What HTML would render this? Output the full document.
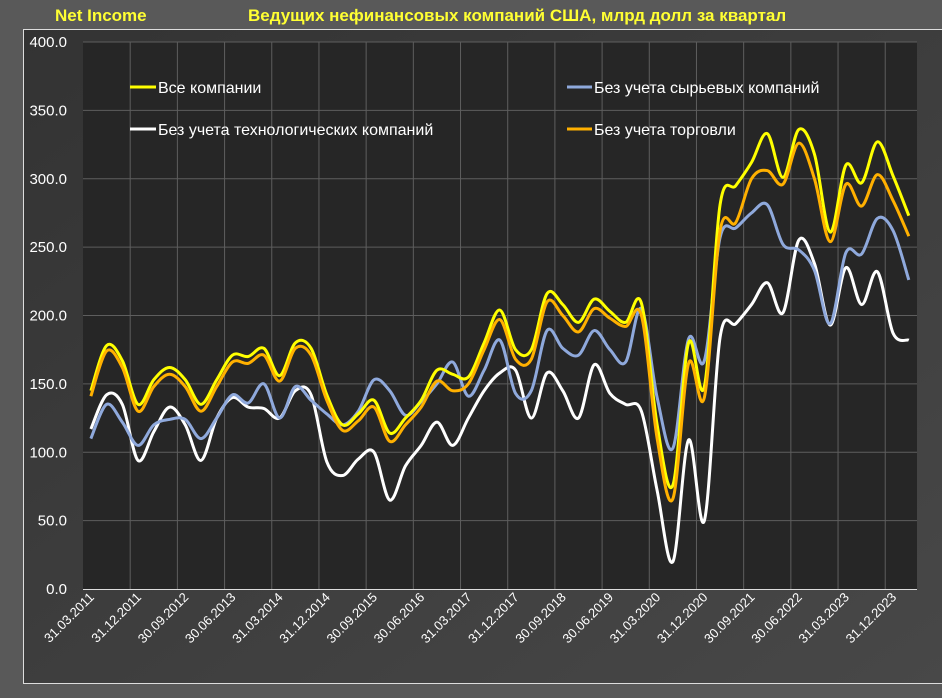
<!DOCTYPE html><html><head><meta charset="utf-8"><style>
body{margin:0;width:942px;height:693px;background:#595959;font-family:"Liberation Sans",sans-serif;overflow:hidden}
</style></head><body>
<svg id="s" width="942" height="693" xmlns="http://www.w3.org/2000/svg">
<defs><linearGradient id="g" x1="0" y1="0" x2="1" y2="1"><stop offset="0" stop-color="#333"/><stop offset="1" stop-color="#484848"/></linearGradient></defs>
<text x="55" y="21" fill="#ffff33" font-weight="bold" font-size="17">Net Income</text>
<text x="248" y="21" fill="#ffff33" font-weight="bold" font-size="17">Ведущих нефинансовых компаний США, млрд долл за квартал</text>
<rect x="23.5" y="29.5" width="940" height="654" fill="url(#g)" stroke="#ddd" stroke-width="1"/>
<rect x="83" y="42" width="834" height="547" fill="#262626"/>
<g id="grid"></g>
<g id="lines" fill="none" stroke-width="3"></g>
<g font-size="16" fill="#fff">
<line x1="130" y1="87" x2="156" y2="87" stroke="#ffff00" stroke-width="3"/><text x="158" y="93">Все компании</text>
<line x1="130" y1="129" x2="156" y2="129" stroke="#fff" stroke-width="3"/><text x="158" y="135">Без учета технологических компаний</text>
<line x1="567" y1="87" x2="592" y2="87" stroke="#8fa9dc" stroke-width="3"/><text x="594" y="93">Без учета сырьевых компаний</text>
<line x1="567" y1="129" x2="592" y2="129" stroke="#ffb000" stroke-width="3"/><text x="594" y="135">Без учета торговли</text>
</g>
</svg>
<script>
const N="http://www.w3.org/2000/svg",s=document.getElementById('s'),gr=document.getElementById('grid'),ln=document.getElementById('lines');
function el(t,a,p,txt){const e=document.createElementNS(N,t);for(const k in a)e.setAttribute(k,a[k]);if(txt)e.textContent=txt;(p||s).appendChild(e);return e}
const Y=v=>589-v*1.3675, step=15.73, X=i=>83+step*(i+0.5);
for(let v=0;v<=400;v+=50){const y=Y(v);if(v>0)el('line',{x1:83,x2:917,y1:y,y2:y,stroke:'#5e5e5e','stroke-width':1},gr);
el('text',{x:67,y:y+5,'text-anchor':'end',fill:'#fff','font-size':15},gr,v.toFixed(1));}
const labs=["31.03.2011","31.12.2011","30.09.2012","30.06.2013","31.03.2014","31.12.2014","30.09.2015","30.06.2016","31.03.2017","31.12.2017","30.09.2018","30.06.2019","31.03.2020","31.12.2020","30.09.2021","30.06.2022","31.03.2023","31.12.2023"];
for(let k=0;k<18;k++){const x=83+k*3*step;if(k>0)el('line',{x1:x,x2:x,y1:42,y2:589,stroke:'#5e5e5e'},gr);
const cx=X(k*3)+4;el('text',{x:cx,y:598,'text-anchor':'end',fill:'#fff','font-size':13,transform:`rotate(-45 ${cx} 598)`},gr,labs[k]);}
el('line',{x1:83,x2:917,y1:589.5,y2:589.5,stroke:'#ddd'},gr);
const D={
w:[117,142,135,94,115,133,120,94,125,140,133,132,125,145,142,93,83,95,100,65,90,105,122,105,125,145,158,160,125,158,145,125,164,143,135,130,72,20,109,50,184,194,208,224,202,255,238,193,235,208,232,187,182],
y:[145,178,167,135,153,162,153,135,153,171,170,176,156,180,176,142,120,128,138,114,125,138,160,157,155,180,204,175,175,216,208,195,212,203,195,209,120,76,180,148,281,295,312,333,301,336,318,261,310,297,327,302,273],
o:[141,174,162,130,148,157,148,130,148,166,165,171,152,176,171,138,116,123,133,108,120,133,152,145,150,175,197,168,168,210,200,188,205,198,192,200,110,66,165,140,262,268,300,306,296,326,300,254,296,280,303,284,258],
b:[110,135,122,105,120,124,124,110,125,142,136,150,125,148,138,128,120,130,153,145,127,137,150,166,141,160,182,143,145,189,176,171,189,175,166,205,140,103,183,167,257,264,275,281,252,248,233,194,246,245,271,262,226]};
function path(a){const p=a.map((v,i)=>[X(i),Y(v)]);let d=`M${p[0][0]},${p[0][1]}`;
for(let i=0;i<p.length-1;i++){const p0=p[i-1]||p[i],p1=p[i],p2=p[i+1],p3=p[i+2]||p2;
d+=`C${p1[0]+(p2[0]-p0[0])/6},${p1[1]+(p2[1]-p0[1])/6} ${p2[0]-(p3[0]-p1[0])/6},${p2[1]-(p3[1]-p1[1])/6} ${p2[0]},${p2[1]}`}return d}
el('path',{d:path(D.w),stroke:'#fff'},ln);el('path',{d:path(D.b),stroke:'#8fa9dc'},ln);
el('path',{d:path(D.y),stroke:'#ffff00'},ln);el('path',{d:path(D.o),stroke:'#ffb000'},ln);
</script>
</body></html>
